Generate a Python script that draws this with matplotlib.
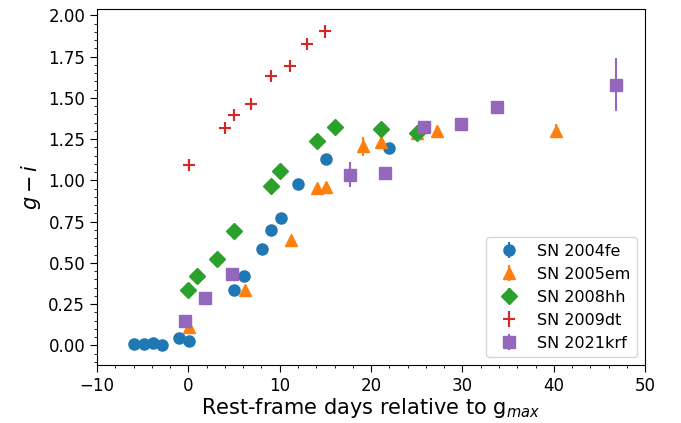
import numpy as np
import matplotlib.pyplot as plt
from matplotlib.ticker import MultipleLocator

# SN 2004fe
t_04fe = [-6.0, -4.9, -3.9, -2.9, -1.0, 0.1, 5.0, 6.1, 8.1, 9.1, 10.1, 12.0, 15.1, 22.0]
gi_04fe = [0.005, 0.01, 0.014, 0.004, 0.043, 0.028, 0.336, 0.42, 0.585, 0.70, 0.77, 0.975, 1.129, 1.196]
e_04fe = [0.01] * len(t_04fe)

# SN 2005em
t_05em = [0.1, 6.2, 11.2, 14.1, 15.1, 19.1, 21.1, 25.0, 27.2, 40.2]
gi_05em = [0.11, 0.334, 0.638, 0.953, 0.962, 1.206, 1.23, 1.29, 1.30, 1.30]
e_05em = [0.02, 0.02, 0.02, 0.02, 0.03, 0.06, 0.04, 0.02, 0.03, 0.04]

# SN 2008hh
t_08hh = [0.0, 1.0, 3.1, 5.0, 9.1, 10.0, 14.1, 16.1, 21.1, 25.0]
gi_08hh = [0.336, 0.418, 0.523, 0.693, 0.967, 1.054, 1.24, 1.325, 1.31, 1.29]
e_08hh = [0.01] * len(t_08hh)

# SN 2009dt
t_09dt = [0.1, 4.0, 5.0, 6.9, 9.0, 11.1, 13.0, 15.0]
gi_09dt = [1.094, 1.315, 1.396, 1.463, 1.635, 1.696, 1.83, 1.903]
e_09dt = [0.03, 0.03, 0.03, 0.03, 0.03, 0.03, 0.03, 0.04]

# SN 2021krf
t_21krf = [-0.4, 1.8, 4.8, 17.7, 21.5, 25.8, 29.8, 33.8, 46.8]
gi_21krf = [0.150, 0.284, 0.432, 1.035, 1.047, 1.323, 1.341, 1.445, 1.58]
e_21krf = [0.01, 0.01, 0.01, 0.074, 0.01, 0.01, 0.01, 0.01, 0.16]

fig = plt.figure(figsize=(6.81, 4.23), dpi=100)
ax = fig.add_axes([0.1424, 0.137, 0.805, 0.842])

ax.errorbar(t_04fe, gi_04fe, yerr=e_04fe, fmt='o', ms=8, color='C0', label='SN 2004fe')
ax.errorbar(t_05em, gi_05em, yerr=e_05em, fmt='^', ms=8, color='C1', label='SN 2005em')
ax.errorbar(t_08hh, gi_08hh, yerr=e_08hh, fmt='D', ms=8, color='C2', label='SN 2008hh')
ax.errorbar(t_09dt, gi_09dt, yerr=e_09dt, fmt='+', ms=8, mew=1.5, color='C3', label='SN 2009dt')
ax.errorbar(t_21krf, gi_21krf, yerr=e_21krf, fmt='s', ms=8, color='C4', label='SN 2021krf')

ax.set_xlim(-10, 50)
ax.set_ylim(-0.12, 2.04)
ax.xaxis.set_minor_locator(MultipleLocator(2))
ax.yaxis.set_minor_locator(MultipleLocator(0.05))
ax.tick_params(labelsize=12)
ax.tick_params(which='major', length=5)
ax.tick_params(which='minor', length=2.5)
ax.set_xlabel('Rest-frame days relative to g$_{max}$', fontsize=15, labelpad=1)
ax.set_ylabel('$g-i$', fontsize=15)
ax.legend(loc='lower right', fontsize=11.5)

fig.savefig('out.png', dpi=100)
